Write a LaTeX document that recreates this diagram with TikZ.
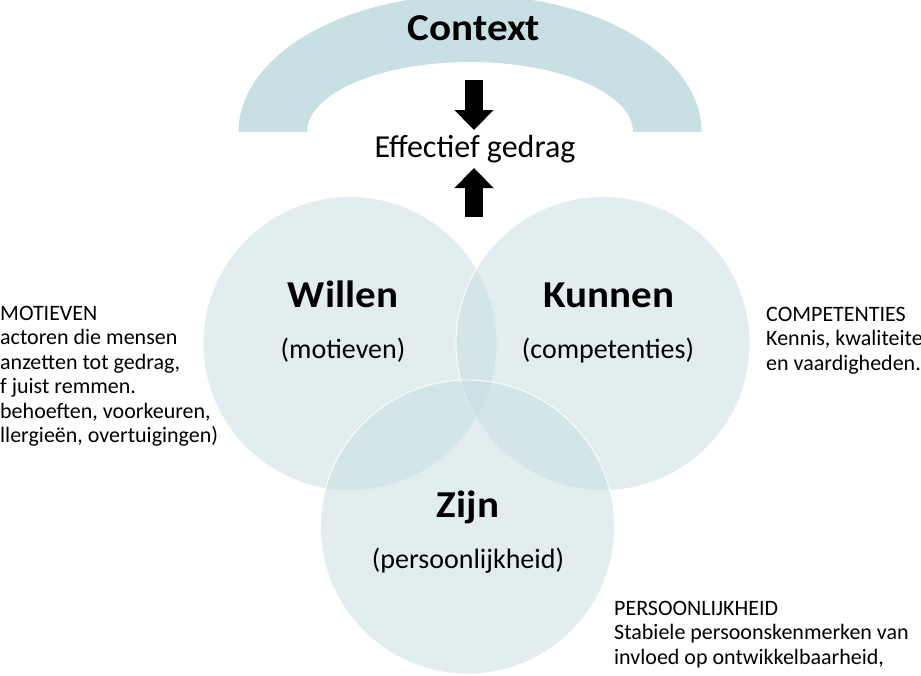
\documentclass[tikz,border=0pt]{standalone}
\usepackage{fontspec}
\setmainfont{Carlito}
\newfontfamily\titlefont[FakeStretch=1.08]{Carlito}
\usetikzlibrary{arrows.meta}
\definecolor{archcol}{RGB}{200,223,227}
\definecolor{circcol}{RGB}{198,220,225}
\begin{document}
\begin{tikzpicture}[x=1pt,y=-1pt,
  circ/.style={circle,minimum size=294pt,inner sep=0pt,fill=circcol,fill opacity=0.5,draw=white,line width=0.8pt},
  title/.style={font=\titlefont\fontsize{38}{42}\selectfont\bfseries,anchor=base,inner sep=0pt},
  sub/.style={font=\fontsize{28}{32}\selectfont,anchor=base,inner sep=0pt},
  note/.style={font=\fontsize{22}{24.5}\selectfont,align=left,anchor=north west,inner sep=0pt},
  blockarrow/.style={line width=18pt,-{Triangle[width=38pt,length=20pt]}}]
\useasboundingbox (0,0) rectangle (921,675);
\clip (0,0) rectangle (921,675);
% arch
\fill[archcol] (238.5,132) arc[start angle=180,end angle=0,x radius=231.5pt,y radius=137pt]
  -- (633,132) arc[start angle=0,end angle=180,x radius=163pt,y radius=70pt] -- cycle;
\node[title] (context) at (474,40) {Context};
% circles
\node[circ] (willenc) at (350,343.5) {};
\node[circ] (kunnenc) at (603,343.5) {};
\node[circ] (zijnc) at (467.5,527) {};
% labels
\node[title] (willen) at (343,307) {Willen};
\node[sub] (motieven) at (343,358) {(motieven)};
\node[title] (kunnen) at (609,307) {Kunnen};
\node[sub] (competenties) at (608,358) {(competenties)};
\node[title] (zijn) at (468,517) {Zijn};
\node[sub] (persoonlijkheid) at (468,568) {(persoonlijkheid)};
% effectief gedrag
\node[sub,font=\fontsize{32}{36}\selectfont] (eff) at (475,157) {Effectief gedrag};
\coordinate (downstart) at (474,80);
\coordinate (downtip) at (474,130);
\coordinate (upstart) at (474,217);
\coordinate (uptip) at (474,168);
\draw[blockarrow] (downstart) -- (downtip);
\draw[blockarrow] (upstart) -- (uptip);
% notes
\node[note] (motnote) at (0,306) {MOTIEVEN\\actoren die mensen\\anzetten tot gedrag,\\f juist remmen.\\behoeften, voorkeuren,\\llergieën, overtuigingen)};
\node[note] (compnote) at (766,307) {COMPETENTIES\\Kennis, kwaliteite\\en vaardigheden.};
\node[note] (persnote) at (614,601) {PERSOONLIJKHEID\\Stabiele persoonskenmerken van\\invloed op ontwikkelbaarheid,};
\end{tikzpicture}
\end{document}
